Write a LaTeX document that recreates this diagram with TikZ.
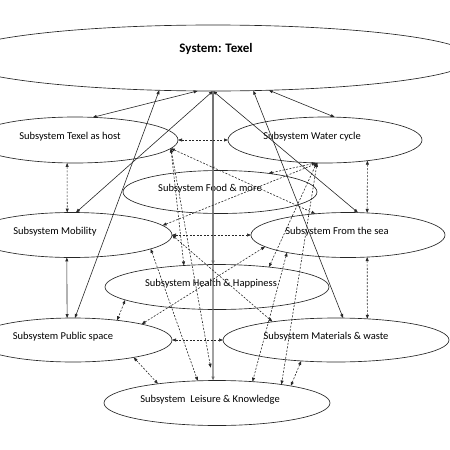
\documentclass[tikz,border=0pt]{standalone}
\usepackage{fontspec}
\setmainfont{Carlito}
\usepackage{tikz}
\usetikzlibrary{shapes.geometric, arrows.meta, positioning}
\definecolor{LineGrey}{HTML}{262626}
\definecolor{HubGrey}{HTML}{6E6E6E}
\newcommand{\subfont}{\fontsize{10.5}{12}\selectfont}

\begin{document}
\begin{tikzpicture}[x=1pt, y=-1pt, font=\subfont,
    subsys/.style={ellipse, draw=LineGrey, line width=0.65pt, inner sep=0pt, outer sep=0pt},
    link/.style={{Triangle[length=4pt,width=3pt]}-{Triangle[length=4pt,width=3pt]}, line width=0.6pt, LineGrey},
    dlink/.style={link, dash pattern=on 2pt off 1.5pt},
    hub/.style={-{Triangle[length=4pt,width=3pt]}, HubGrey, line width=1.2pt}]
\useasboundingbox (0,0) rectangle (450,450);

\node[subsys, minimum width=520pt, minimum height=66pt,
      label={[shift={(3,-9)}, font=\bfseries\fontsize{13}{15}\selectfont]center:{System: Texel}}] (sys) at (213,58) {};
\node[subsys, minimum width=206pt, minimum height=46pt,
      label={[shift={(-5,-3)}]center:Subsystem Texel as host}] (host) at (75,140) {};
\node[subsys, minimum width=194pt, minimum height=46pt,
      label={[shift={(-13,-3)}]center:Subsystem Water cycle}] (water) at (325,140) {};
\node[subsys, minimum width=194pt, minimum height=43pt,
      label={[shift={(-10,-3)}]center:Subsystem Food \& more}] (food) at (220,192) {};
\node[subsys, minimum width=200pt, minimum height=45pt,
      label={[shift={(-17,-3)}]center:Subsystem Mobility}] (mob) at (72,235) {};
\node[subsys, minimum width=194pt, minimum height=45pt,
      label={[shift={(-11,-3)}]center:Subsystem From the sea}] (sea) at (348,235) {};
\node[subsys, minimum width=224pt, minimum height=45pt,
      label={[shift={(-6,-3)}]center:Subsystem Health \& Happiness}] (health) at (217,287) {};
\node[subsys, minimum width=198pt, minimum height=44pt,
      label={[shift={(-10,-3)}]center:Subsystem Public space}] (pub) at (73,340) {};
\node[subsys, minimum width=226pt, minimum height=44pt,
      label={[shift={(-10,-3)}]center:Subsystem Materials \& waste}] (mat) at (336,340) {};
\node[subsys, minimum width=226pt, minimum height=45pt,
      label={[shift={(-7,-3)}]center:Subsystem~ Leisure \& Knowledge}] (leis) at (217,403) {};

\draw[link] (sys.-115.9) -- (host.52.3);
\draw[link] (sys.-30.9) -- (water.67.8);
\draw[link] (sys.-149.6) -- (pub.85);
\draw[link] (sys.south) -- (mob.80);
\draw[link] (sys.south) -- (sea.66);
\draw[link] (sys.-39.9) -- (mat.72);
\draw[hub] (sys.south) -- (food.108);
\draw[hub] (sys.south) -- (health.100);
\draw[hub] (sys.south) -- (leis.100);
\draw[link] (mob.257.5) -- (pub.105);

\draw[dlink] (host.east) -- (water.west);
\draw[dlink] (host.251) -- (mob.102.5);
\draw[dlink] (water.-26.2) -- (sea.49.3);
\draw[dlink] (sea.-49.3) -- (mat.34.4);
\draw[dlink] (mob.east) -- (sea.west);
\draw[dlink] (pub.east) -- (mat.west);
\draw[dlink] (pub.-16.3) -- (leis.162);
\draw[dlink] (mat.211.7) -- (leis.13.5);
\draw[dlink] (health.188) -- (pub.24.7);
\draw[dlink] (pub.13.6) -- (sea.188);
\draw[dlink] (mob.6.9) -- (water.253);
\draw[dlink] (food.21.3) -- (water.248.5);
\draw[dlink] (water.250) -- (health.21.9);
\draw[dlink] (water.251) -- (leis.16.1);
\draw[dlink] (sea.196) -- (leis.31.4);
\draw[dlink] (host.-5.4) -- (sea.147.3);
\draw[dlink] (host.-5.4) -- (health.147.8);
\draw[dlink, shorten >=13pt] (host.-5.4) -- (leis.100);
\draw[dlink] (mob.-10.9) -- (leis.131.2);
\draw[dlink] (mob.east) -- (mat.164.2);
\end{tikzpicture}
\end{document}
